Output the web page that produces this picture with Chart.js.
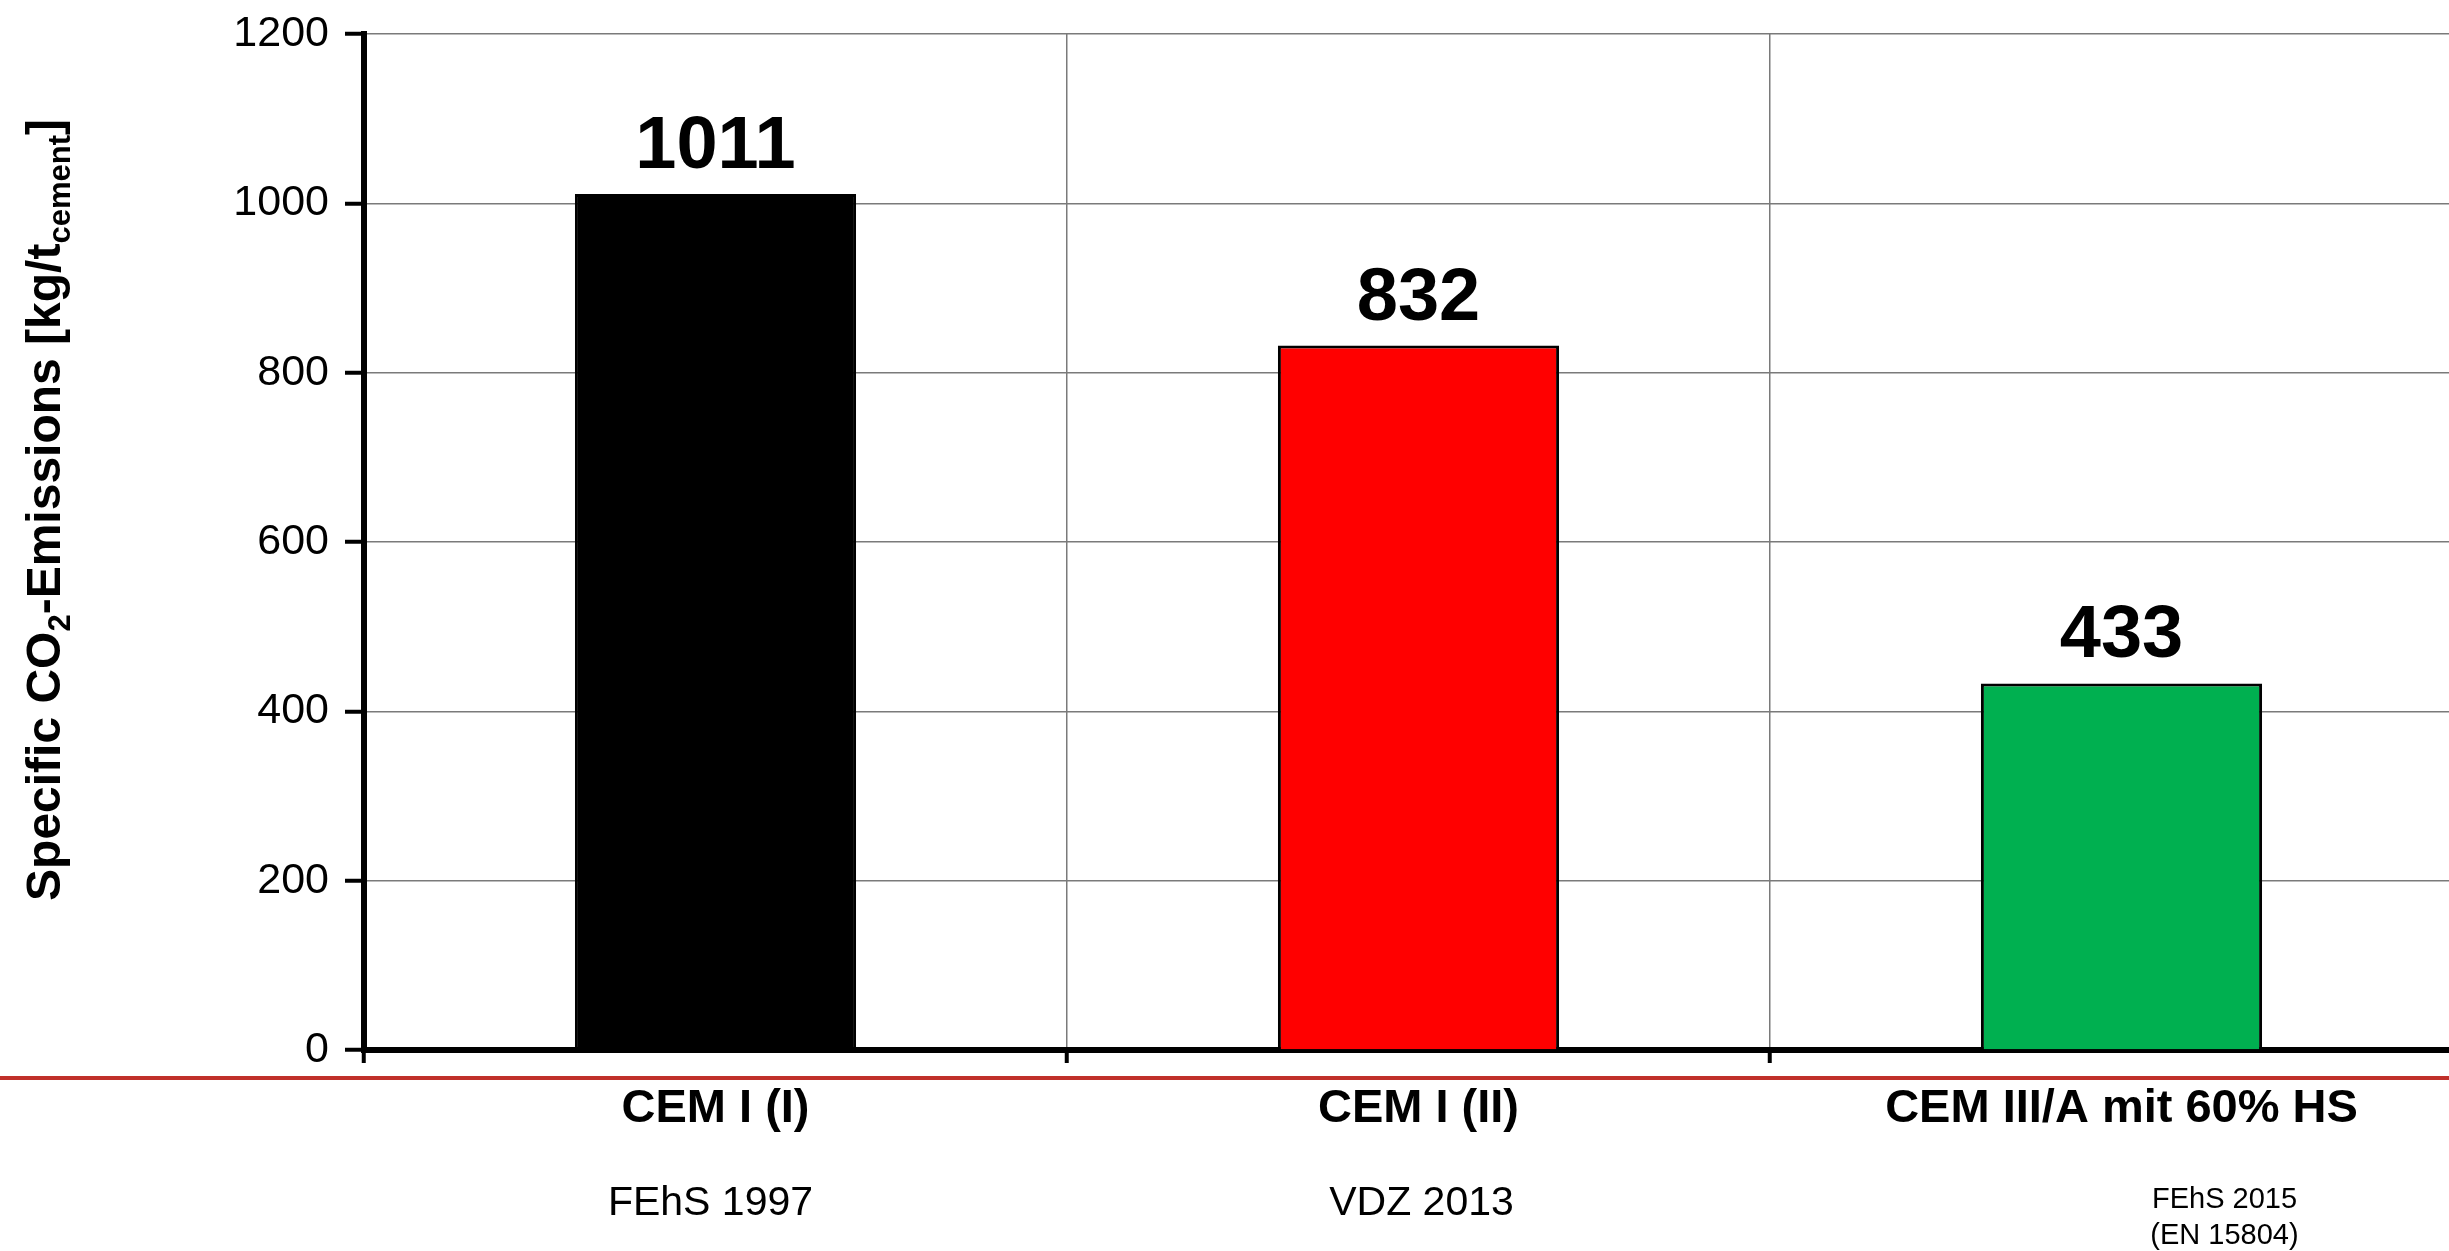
<!DOCTYPE html>
<html>
<head>
<meta charset="utf-8">
<title>Specific CO2 emissions of cements</title>
<script src="https://cdn.jsdelivr.net/npm/chart.js@4.4.1/dist/chart.umd.min.js"></script>
<style>
  html, body { margin: 0; padding: 0; background: #fff; overflow: hidden; }
  #wrap { position: absolute; left: 0; top: 0; }
</style>
</head>
<body>
<div id="wrap"><canvas id="co2chart" width="2480" height="1251"></canvas></div>
<script>
const cements = ["CEM I (I)", "CEM I (II)", "CEM III/A mit 60% HS"];
const emissions = [1011, 832, 433];
const sources = [["FEhS 1997"], ["VDZ 2013"], ["FEhS 2015", "(EN 15804)"]];
const barColors = ["#000000", "#ff0000", "#00b050"];
const yTicks = [0, 200, 400, 600, 800, 1000, 1200];

const FONT = "'Liberation Sans', Arial, Helvetica, sans-serif";

// numbers above the bars
const valueLabels = {
    id: "valueLabels",
    afterDatasetsDraw(chart) {
        const ctx = chart.ctx;
        const meta = chart.getDatasetMeta(0);
        ctx.save();
        ctx.font = `bold 74px ${FONT}`;
        ctx.fillStyle = "#000";
        ctx.textAlign = "center";
        ctx.textBaseline = "alphabetic";
        meta.data.forEach((bar, i) => {
            ctx.fillText(String(emissions[i]), bar.x, bar.y - 26);
        });
        ctx.restore();
    },
};

// source notes under the category names, plus the red rule
const sourceNotes = {
    id: "sourceNotes",
    afterDraw(chart) {
        const ctx = chart.ctx;
        const x = chart.scales.x;
        const area = chart.chartArea;
        ctx.save();

        ctx.strokeStyle = "#c0302a";
        ctx.lineWidth = 4;
        ctx.beginPath();
        ctx.moveTo(0, area.bottom + 28);
        ctx.lineTo(chart.width, area.bottom + 28);
        ctx.stroke();

        ctx.fillStyle = "#000";
        ctx.textAlign = "center";
        ctx.textBaseline = "middle";
        const shift = [-5, 3, 103];
        sources.forEach((lines, i) => {
            const cx = x.getPixelForValue(i) + shift[i];
            if (lines.length === 1) {
                ctx.font = `41px ${FONT}`;
                ctx.fillText(lines[0], cx, area.bottom + 154);
            } else {
                ctx.font = `29px ${FONT}`;
                lines.forEach((line, j) => {
                    ctx.fillText(line, cx, area.bottom + 150 + j * 36);
                });
            }
        });
        ctx.restore();
    },
};

// rotated y-axis title with subscripts
const yTitle = {
    id: "yTitle",
    afterDraw(chart) {
        const ctx = chart.ctx;
        const area = chart.chartArea;
        const parts = [
            { t: "Specific CO", sub: false },
            { t: "2", sub: true },
            { t: "-Emissions [kg/t", sub: false },
            { t: "cement", sub: true },
            { t: "]", sub: false },
        ];
        const big = `bold 48px ${FONT}`;
        const small = `bold 31px ${FONT}`;
        ctx.save();
        let total = 0;
        parts.forEach((p) => {
            ctx.font = p.sub ? small : big;
            p.w = ctx.measureText(p.t).width;
            total += p.w;
        });
        ctx.translate(60, area.top + 476);
        ctx.rotate(-Math.PI / 2);
        ctx.fillStyle = "#000";
        ctx.textAlign = "left";
        ctx.textBaseline = "alphabetic";
        let pos = -total / 2;
        parts.forEach((p) => {
            ctx.font = p.sub ? small : big;
            ctx.fillText(p.t, pos, p.sub ? 10 : 0);
            pos += p.w;
        });
        ctx.restore();
    },
};

const ctx = document.getElementById("co2chart").getContext("2d");

new Chart(ctx, {
    type: "bar",
    data: {
        labels: cements,
        datasets: [
            {
                data: emissions,
                backgroundColor: barColors,
                borderColor: "#000",
                borderWidth: 3,
                barPercentage: 0.4,
                categoryPercentage: 1.0,
            },
        ],
    },
    options: {
        responsive: false,
        animation: false,
        layout: { padding: { top: 34, right: 7, left: 0, bottom: 0 } },
        plugins: {
            legend: { display: false },
            tooltip: { enabled: false },
        },
        scales: {
            x: {
                afterFit(scale) {
                    scale.height = 201;
                },
                grid: {
                    offset: true,
                    color: "#7a7a7a",
                    lineWidth: 1.5,
                    tickColor: "#000",
                    tickLength: 13,
                    tickWidth: 4,
                },
                border: { display: true, color: "#000", width: 6 },
                ticks: {
                    color: "#000",
                    padding: 18,
                    maxRotation: 0,
                    font: { family: FONT, size: 47, weight: "bold" },
                },
            },
            y: {
                min: yTicks[0],
                max: yTicks[yTicks.length - 1],
                afterFit(scale) {
                    scale.width = 364;
                    scale.paddingTop = 0;
                    scale.paddingBottom = 0;
                },
                afterBuildTicks(scale) {
                    scale.ticks = yTicks.map((v) => ({ value: v }));
                },
                grid: {
                    color: "#7a7a7a",
                    lineWidth: 1.5,
                    tickColor: "#000",
                    tickLength: 19,
                    tickWidth: 4,
                },
                border: { display: true, color: "#000", width: 6 },
                ticks: {
                    color: "#000",
                    padding: 16,
                    font: { family: FONT, size: 43 },
                    callback: (value) => String(value),
                },
            },
        },
    },
    plugins: [valueLabels, sourceNotes, yTitle],
});
</script>
</body>
</html>
